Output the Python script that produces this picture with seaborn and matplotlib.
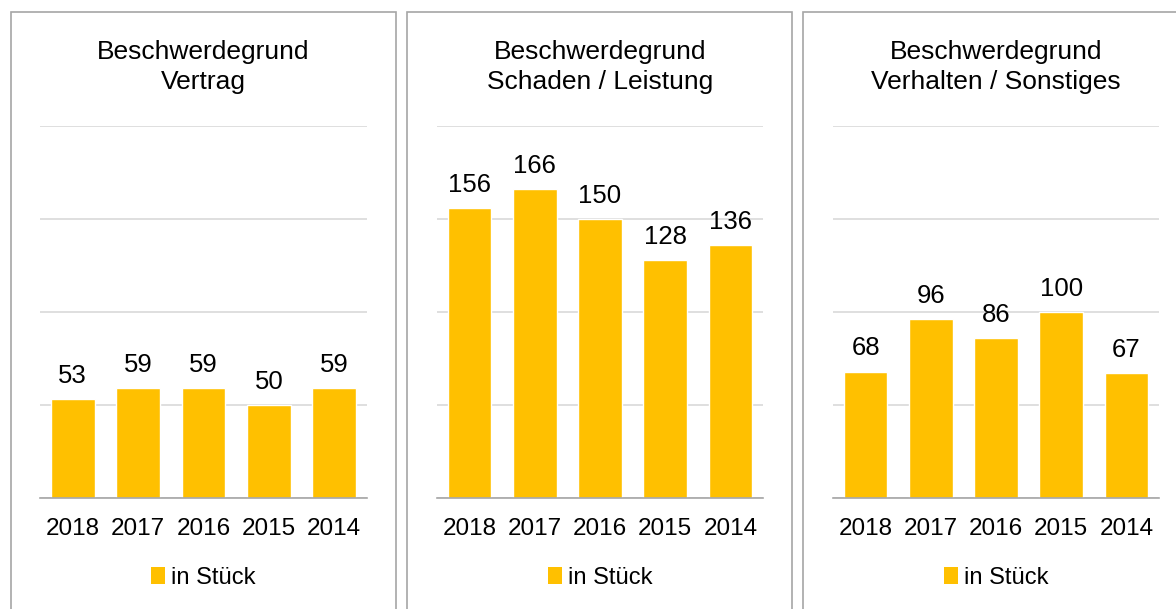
import matplotlib
matplotlib.use("Agg")
import matplotlib.pyplot as plt
import seaborn as sns
from matplotlib.patches import Rectangle, Patch

# ----------------------------------------------------------
# Data
# ----------------------------------------------------------
years = ["2018", "2017", "2016", "2015", "2014"]
vertrag = [53, 59, 59, 50, 59]
schaden = [156, 166, 150, 128, 136]
verhalten = [68, 96, 86, 100, 67]

titles = [
    "Beschwerdegrund\nVertrag",
    "Beschwerdegrund\nSchaden / Leistung",
    "Beschwerdegrund\nVerhalten / Sonstiges",
]
series = [vertrag, schaden, verhalten]
legend_label = "in Stück"

bar_color = "#FFC000"

sns.set_style("white")
plt.rcParams["font.family"] = ["Liberation Sans", "DejaVu Sans"]
plt.rcParams["text.color"] = "black"
plt.rcParams["xtick.color"] = "black"

W, H = 1176, 609
fig = plt.figure(figsize=(W / 100, H / 100), dpi=100)

# panel boxes (pixel coords: left, right)
boxes = [(11, 396), (407, 792), (803, 1190)]
# plot areas (pixel coords: left, right)
plots = [(40, 367), (437, 763), (833, 1159)]
plot_top, plot_bottom = 126, 498

for (bl, br) in boxes:
    fig.patches.append(Rectangle(
        (bl / W, -0.05), (br - bl) / W, 1.05 - 12 / H,
        transform=fig.transFigure, fill=False,
        edgecolor="#A6A6A6", linewidth=1.2))

for i in range(3):
    pl, pr = plots[i]
    ax = fig.add_axes([pl / W, 1 - plot_bottom / H,
                       (pr - pl) / W, (plot_bottom - plot_top) / H])

    sns.barplot(x=years, y=series[i], order=years, color=bar_color,
                width=0.67, ax=ax, saturation=1)

    ax.set_ylim(0, 200)
    ax.set_yticks([0, 50, 100, 150, 200])
    ax.yaxis.grid(True, color="#D9D9D9", linewidth=1.2)
    ax.set_axisbelow(True)
    ax.tick_params(axis="y", left=False, labelleft=False)
    ax.tick_params(axis="x", bottom=False, pad=11, labelsize=17.5,
                   labelcolor="black")
    for s in ["left", "right", "top"]:
        ax.spines[s].set_visible(False)
    ax.spines["bottom"].set_color("#A6A6A6")
    ax.spines["bottom"].set_linewidth(1.2)
    ax.set_xlabel("")
    ax.set_ylabel("")

    ax.bar_label(ax.containers[0], padding=8, fontsize=18.5, color="black")

    ax.set_title(titles[i], fontsize=19, pad=27, linespacing=1.3,
                 color="black")

    handle = Patch(facecolor=bar_color, edgecolor="none")
    ax.legend([handle], [legend_label], loc="center",
              bbox_to_anchor=(0.5, -0.215), frameon=False,
              fontsize=17, handlelength=0.6, handleheight=0.75,
              handletextpad=0.25, labelcolor="black")

fig.savefig("out.png", dpi=100)
